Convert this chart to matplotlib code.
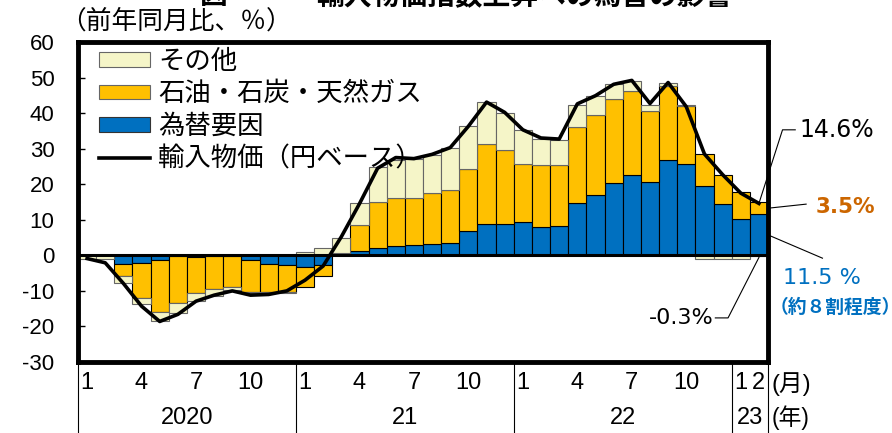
import numpy as np
import matplotlib
matplotlib.use('Agg')
from matplotlib import pyplot as plt
from matplotlib.patches import Patch
from matplotlib.lines import Line2D
import matplotlib.transforms as mtransforms

plt.rcParams['font.family'] = ['Liberation Sans', 'Noto Sans CJK JP', 'DejaVu Sans']
plt.rcParams['axes.unicode_minus'] = False

########
# DATA #
########

# monthly, Jan 2020 .. Feb 2023 (year-on-year %, contributions)
years = ['2020', '21', '22', '23']
months_per_year = [12, 12, 12, 2]

fx = [0.0, 0.0, -2.3, -2.2, -1.4, -0.2, -0.5, -0.2, -0.2, -1.4, -2.3, -2.8,
      -3.3, -2.6, 0.6, 1.2, 2.1, 2.5, 3.0, 3.1, 3.6, 6.9, 8.9, 8.9,
      9.3, 8.1, 8.2, 14.7, 17.0, 20.4, 22.6, 20.6, 26.8, 25.7, 19.4, 14.5,
      10.3, 11.5]
energy = [0.0, 0.0, -3.6, -9.9, -14.5, -13.3, -10.2, -9.4, -8.7, -8.9, -8.0, -7.5,
          -5.6, -3.2, 0.1, 7.2, 13.0, 13.7, 13.2, 14.3, 14.8, 17.4, 22.4, 20.7,
          16.4, 17.3, 17.2, 21.3, 22.5, 23.5, 23.5, 20.1, 20.9, 16.4, 9.1, 8.1,
          7.5, 3.5]
other = [-0.9, -0.9, -2.0, -1.6, -2.6, -2.7, -2.2, -1.9, -0.9, -0.2, -0.2, -0.2,
         0.8, 2.0, 4.3, 6.4, 9.7, 10.6, 10.8, 10.9, 11.7, 12.0, 11.7, 10.3,
         9.5, 7.3, 7.0, 6.3, 5.2, 4.2, 2.8, 1.6, 0.7, 0.2, -1.0, -1.0,
         -1.1, -0.3]
import_price = [-0.9, -2.1, -7.9, -14.3, -18.6, -16.6, -12.9, -11.2, -10.0, -11.2, -11.0, -10.0,
                -7.0, -3.0, 5.2, 14.5, 24.5, 27.5, 27.2, 28.4, 30.3, 36.3, 43.1, 40.2,
                35.3, 33.0, 32.7, 42.6, 44.9, 48.1, 49.2, 42.7, 48.6, 41.8, 28.5, 22.7,
                17.5, 14.6]

labels = ['その他', '石油・石炭・天然ガス', '為替要因', '輸入物価（円ベース）']
colors = {'fx': '#0070C0', 'energy': '#FFC000', 'other': '#F5F5C8'}
num_font = ['DejaVu Sans']

########
# PLOT #
########

W, H = 892, 433
fig = plt.figure(figsize=(W/100, H/100), dpi=100)
ax = fig.add_axes([78/W, 1-362/H, 690/W, 320/H])

n = len(fx)
x = np.arange(n) + 0.5
pos_bot = np.zeros(n)
neg_bot = np.zeros(n)
for vals, col, ec in [(fx, colors['fx'], 'k'),
                      (energy, colors['energy'], 'k'),
                      (other, colors['other'], '#666666')]:
    v = np.array(vals)
    bot = np.where(v >= 0, pos_bot, neg_bot)
    ax.bar(x, v, width=1.0, bottom=bot, color=col, edgecolor=ec,
           linewidth=0.8, zorder=2)
    pos_bot = pos_bot + np.where(v >= 0, v, 0)
    neg_bot = neg_bot + np.where(v < 0, v, 0)

ax.plot(x, import_price, color='k', lw=2.6, zorder=4)
ax.axhline(0, color='k', lw=2.2, zorder=3)

ax.set_xlim(0, n)
ax.set_ylim(-30, 60)
for s in ax.spines.values():
    s.set_linewidth(3.5)

ax.set_yticks(range(-30, 61, 10))
ax.tick_params(axis='y', direction='in', length=5, width=1, labelsize=16, pad=17)

# month ticks
xt, xl = [], []
start = 0
for ny in months_per_year:
    for m in range(1, ny+1):
        if ny == 2 or m in (1, 4, 7, 10):
            xt.append(start + m - 0.5)
            xl.append(str(m))
    start += ny
ax.set_xticks(xt, xl)
ax.tick_params(axis='x', length=0, labelsize=17, pad=7)

trans = mtransforms.blended_transform_factory(ax.transData, ax.transAxes)
start = 0
for yr, ny in zip(years, months_per_year):
    ax.text(start + ny/2, -0.175, yr, transform=trans, ha='center',
            va='center', fontsize=17)
    ax.plot([start, start], [0, -0.23], color='k', lw=0.8,
            transform=trans, clip_on=False)
    start += ny
ax.plot([n, n], [0, -0.23], color='k', lw=0.8, transform=trans, clip_on=False)
ax.text(n + 0.2, -0.07, '(月)', transform=trans, ha='left', va='center', fontsize=17)
ax.text(n + 0.2, -0.175, '(年)', transform=trans, ha='left', va='center', fontsize=16.5)

handles = [Patch(facecolor=colors['other'], edgecolor='#666666', lw=0.8),
           Patch(facecolor=colors['energy'], edgecolor='#666666', lw=0.8),
           Patch(facecolor=colors['fx'], edgecolor='#333333', lw=0.8),
           Line2D([], [], color='k', lw=2.6)]
ax.legend(handles, labels, loc='upper left', bbox_to_anchor=(0.030, 0.976),
          frameon=False, fontsize=19, handlelength=1.95, handleheight=0.48,
          handletextpad=0.3, labelspacing=0.3, borderaxespad=0, borderpad=0)

# annotations for the latest month
last = n - 0.5
ax.plot([last, 38.8, 39.5], [import_price[-1], 35.3, 35.3], color='k', lw=0.8, clip_on=False)
ax.text(39.75, 35.3, '14.6%', ha='left', va='center', fontsize=17, color='k',
        family=num_font)
ax.plot([n, 40.1], [fx[-1] + energy[-1]/2, 14.4], color='k', lw=0.8, clip_on=False)
ax.text(40.6, 13.5, '3.5%', ha='left', va='center', fontsize=15.5, color='#CC6600',
        fontweight='bold', family=num_font)
ax.plot([n, 41.0], [fx[-1]/2, -0.8], color='k', lw=0.8, clip_on=False)
ax.text(38.8, -6.3, '11.5 %', ha='left', va='center', fontsize=16, color='#0070C0',
        family=num_font)
ax.text(38.1, -14.7, '（約８割程度）', ha='left', va='center', fontsize=13.5,
        color='#0070C0', fontweight='bold')
ax.plot([35.1, 35.8, last], [-17.6, -17.6, -0.6], color='k', lw=0.8, clip_on=False)
ax.text(35.0, -17.6, '-0.3%', ha='right', va='center', fontsize=16, color='k',
        family=num_font)

fig.text(60/W, 1-21/H, '（前年同月比、％）', ha='left', va='center', fontsize=18.5)
fig.text(200/W, 1-4/H, '図', ha='left', va='baseline', fontsize=20, fontweight='bold')
fig.text(316/W, 1-4/H, '輸入物価指数上昇への為替の影響', ha='left', va='baseline',
         fontsize=20, fontweight='bold')

plt.savefig('out.png', dpi=100)
plt.close()
